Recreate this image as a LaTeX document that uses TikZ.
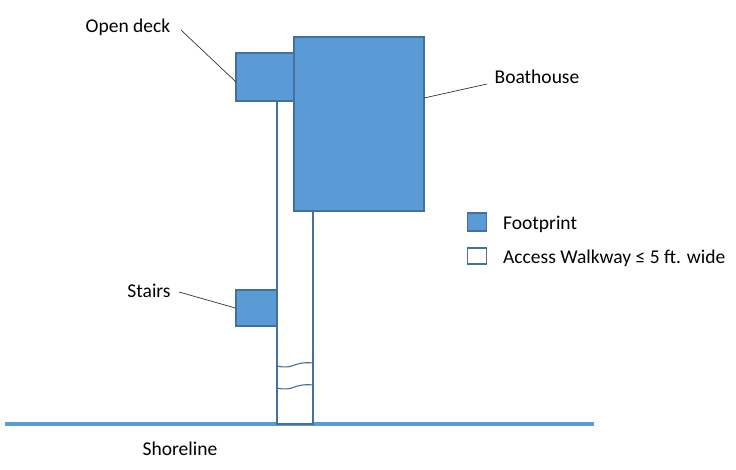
\documentclass[tikz,border=0pt]{standalone}
\usepackage{fontspec}
\setmainfont{Carlito}
\usepackage{tikz}
\usetikzlibrary{positioning}
\definecolor{shapefill}{HTML}{5B9BD5}
\definecolor{shapeline}{HTML}{41719C}

\begin{document}
\begin{tikzpicture}[
    x=1pt, y=-1pt,
    footprint/.style={rectangle, draw=shapeline, fill=shapefill, line width=1.3pt, inner sep=0pt},
    walkway/.style={rectangle, draw=shapeline, fill=white, line width=1.3pt, inner sep=0pt},
    label/.style={font=\fontsize{19.5}{22}\selectfont, inner sep=1pt},
    leader/.style={draw=black!80, line width=0.7pt},
]
\useasboundingbox (0,0) rectangle (736,469);

% Shoreline
\coordinate (shoreW) at (5,424);
\coordinate (shoreE) at (594,424);
\draw[shapefill, line width=4pt] (shoreW) -- (shoreE);
\node[label] (shoretext) at (180,449) {Shoreline};

% Walkway and footprints
\node[walkway, minimum width=36pt, minimum height=324pt] (walk) at (295,262) {};
\draw[shapeline, line width=1.1pt] (277,366) .. controls (294,370) and (293,361) .. (313,363);
\draw[shapeline, line width=1.1pt] (277,388) .. controls (294,392) and (293,383) .. (313,385);
\node[footprint, minimum width=58pt, minimum height=48pt] (deck) at (265,77) {};
\node[footprint, minimum width=130pt, minimum height=174pt] (boathouse) at (359,124) {};
\node[footprint, minimum width=41pt, minimum height=36pt] (stairs) at (256.5,308) {};

% Labels
\node[label] (decktext) at (128,27) {Open deck};
\node[label] (housetext) at (537,77) {Boathouse};
\node[label] (stairstext) at (149,291) {Stairs};
\coordinate (deckpt) at (236,82);
\coordinate (housept) at (424,98);
\draw[leader] (181,30) -- (deckpt);
\draw[leader] (487,84) -- (housept);
\draw[leader] (179,292) -- (stairs.west);

% Legend
\node[footprint, minimum width=19pt, minimum height=18pt] (keyfoot) at (477,222) {};
\node[walkway, minimum width=19pt, minimum height=16pt] (keywalk) at (477,256) {};
\node[label, anchor=west] (keyfoottext) at (502,224) {Footprint};
\node[label, anchor=west] (keywalktext) at (502,258) {Access Walkway ≤ 5 ft. wide};

\end{tikzpicture}
\end{document}
